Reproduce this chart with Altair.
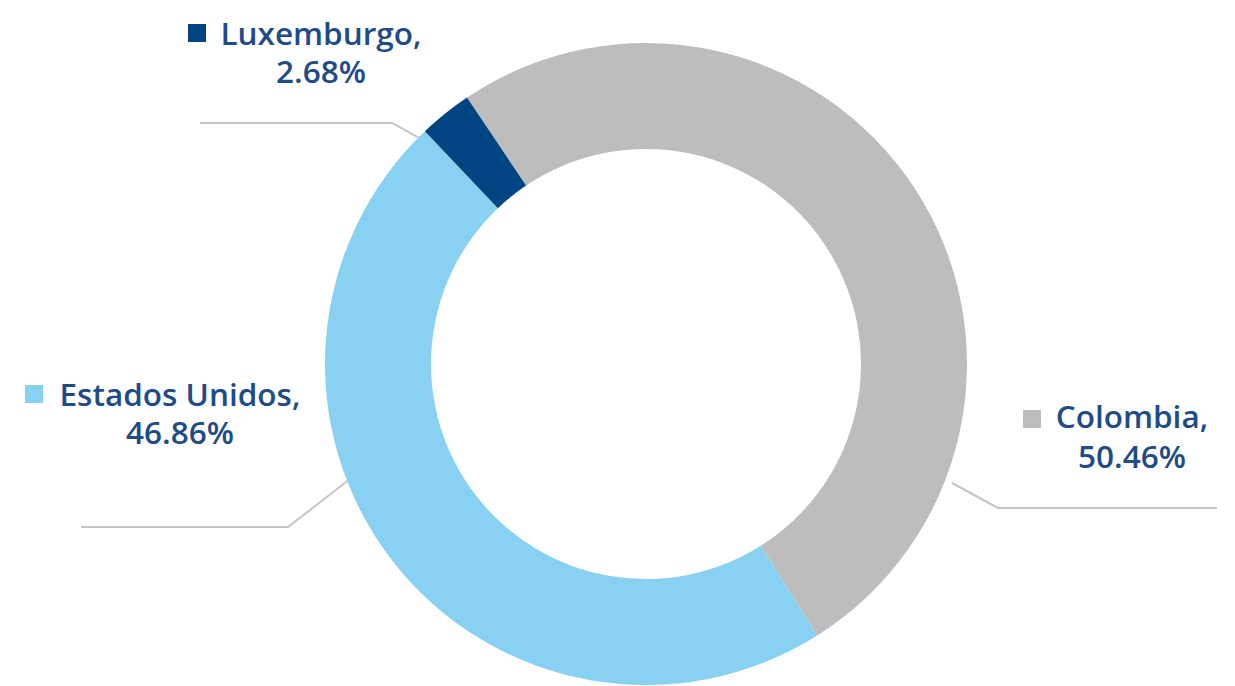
import altair as alt
import pandas as pd
import math

# ---- data ----
countries = ["Colombia", "Estados Unidos", "Luxemburgo"]
shares = [50.46, 46.86, 2.68]
colors = ["#BDBDBD", "#89D1F3", "#004481"]
value_labels = ["50.46%", "46.86%", "2.68%"]

# ---- layout / style (plot-area pixels) ----
W, H = 1219, 678
CX, CY = 638, 356
R_OUT, R_IN = 321, 215
START = math.radians(-33.9)
TEXT_COLOR = "#1F4B87"
LINE_COLOR = "#C4C4C4"
FONT = "Open Sans"
FS = 31.5

label_pos = {  # center x of text, baseline y of first line, square center
    "Luxemburgo": dict(cx=313, y1=37, y2=75, sx=189, sy=25),
    "Estados Unidos": dict(cx=172, y1=398, y2=436, sx=26, sy=386),
    "Colombia": dict(cx=1124, y1=420, y2=460, sx=1024, sy=411),
}
leader_pts = {
    "Luxemburgo": [(192, 115), (384, 115), (440, 146)],
    "Estados Unidos": [(73, 519), (280, 519), (342, 471)],
    "Colombia": [(944, 475), (990, 500), (1209, 500)],
}

df = pd.DataFrame({"country": countries, "share": shares, "idx": list(range(len(countries)))})

color_scale = alt.Scale(domain=countries, range=colors)

arcs = alt.Chart(df).mark_arc(radius=R_OUT, radius2=R_IN).encode(
    theta=alt.Theta("share:Q", stack=True,
                    scale=alt.Scale(range=[START, START + 2 * math.pi])),
    color=alt.Color("country:N", scale=color_scale, legend=None),
    order=alt.Order("idx:Q"),
    x=alt.value(CX),
    y=alt.value(CY),
)

lab_rows = []
for c, v in zip(countries, value_labels):
    p = label_pos[c]
    lab_rows.append(dict(country=c, line1=c + ",", line2=v, cx=p["cx"], y1=p["y1"],
                         y2=p["y2"], sx=p["sx"], sy=p["sy"]))
lab = pd.DataFrame(lab_rows)

text1 = alt.Chart(lab).mark_text(font=FONT, fontSize=FS, fontWeight=600, color=TEXT_COLOR,
                                 align="center", baseline="alphabetic").encode(
    x=alt.X("cx:Q", scale=None), y=alt.Y("y1:Q", scale=None), text="line1:N")
text2 = alt.Chart(lab).mark_text(font=FONT, fontSize=FS, fontWeight=600, color=TEXT_COLOR,
                                 align="center", baseline="alphabetic").encode(
    x=alt.X("cx:Q", scale=None), y=alt.Y("y2:Q", scale=None), text="line2:N")
squares = alt.Chart(lab).mark_square(size=324, opacity=1).encode(
    x=alt.X("sx:Q", scale=None), y=alt.Y("sy:Q", scale=None),
    color=alt.Color("country:N", scale=color_scale, legend=None))

line_rows = []
for c in countries:
    for i, (x, y) in enumerate(leader_pts[c]):
        line_rows.append(dict(country=c, o=i, lx=x, ly=y))
ldf = pd.DataFrame(line_rows)
leaders = alt.Chart(ldf).mark_line(color=LINE_COLOR, strokeWidth=2).encode(
    x=alt.X("lx:Q", scale=None), y=alt.Y("ly:Q", scale=None),
    detail="country:N", order="o:Q")

chart = alt.layer(leaders, arcs, squares, text1, text2).properties(
    width=W, height=H, padding=0,
    autosize=alt.AutoSizeParams(type="fit", contains="padding"),
).configure_view(stroke=None)

chart.save("out.html", embed_options={"renderer": "svg", "actions": False})
